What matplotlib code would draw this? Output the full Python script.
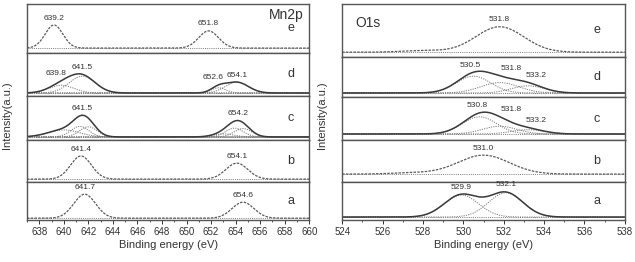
import numpy as np
import matplotlib
matplotlib.use("Agg")
import matplotlib.pyplot as plt
from matplotlib.ticker import MultipleLocator

plt.rcParams['font.family'] = ['Liberation Sans', 'DejaVu Sans']

# ---- Mn2p: fitted peak components per sample (centre eV, height, FWHM eV) ----
mn_samples = ["e", "d", "c", "b", "a"]
mn_base = [0.10, 0.07, 0.07, 0.07, 0.05]
mn_centers = [[639.2, 651.8],
              [639.8, 641.5, 652.6, 654.1],
              [640.0, 641.3, 642.0, 653.0, 653.9, 654.6],
              [641.4, 654.1],
              [641.7, 654.6]]
mn_heights = [[0.47, 0.35],
              [0.18, 0.39, 0.12, 0.25],
              [0.16, 0.24, 0.23, 0.07, 0.20, 0.19],
              [0.55, 0.38],
              [0.63, 0.42]]
mn_fwhm = [[1.7, 1.9],
           [2.4, 2.5, 1.4, 2.2],
           [3.0, 1.7, 1.7, 2.0, 1.7, 1.7],
           [2.0, 2.1],
           [2.1, 2.1]]
mn_fitted = [False, True, True, False, False]
mn_labels = [["639.2", "651.8"],
             ["639.8", "641.5", "652.6", "654.1"],
             ["641.5", "654.2"],
             ["641.4", "654.1"],
             ["641.7", "654.6"]]

# ---- O1s ----
o_samples = ["e", "d", "c", "b", "a"]
o_base = [0.09, 0.10, 0.14, 0.19, 0.08]
o_centers = [[528.0, 531.8],
             [530.5, 531.8, 533.2],
             [530.8, 531.8, 533.2],
             [527.5, 531.0],
             [529.9, 532.1]]
o_heights = [[0.03, 0.48],
             [0.42, 0.26, 0.18],
             [0.40, 0.18, 0.10],
             [0.03, 0.45],
             [0.58, 0.64]]
o_fwhm = [[2.5, 2.8],
          [2.0, 2.2, 1.9],
          [2.0, 2.0, 1.9],
          [2.5, 3.0],
          [2.0, 2.0]]
o_fitted = [False, True, True, False, True]
o_labels = [["531.8"],
            ["530.5", "531.8", "533.2"],
            ["530.8", "531.8", "533.2"],
            ["531.0"],
            ["529.9", "532.1"]]

# label x-offsets in points (layout only)
mn_label_dx = [[0, 0], [-4, 0, -4, 0], [0, 0], [0, 0], [0, 0]]
o_label_dx = [[0], [-2, 8, 6], [-2, 8, 6], [0], [0, 0]]

DARK = "#3a3a3a"
GREY = "#7a7a7a"


def gauss(x, c, h, w):
    return h * np.exp(-4 * np.log(2) * ((x - c) / w) ** 2)


def draw_stack(gs, xlim, samples, base, centers, heights, fwhm, fitted,
               labels, label_dx, title, title_xy, letter_x):
    x = np.linspace(xlim[0], xlim[1], 800)
    axes = []
    for i, s in enumerate(samples):
        ax = fig.add_subplot(gs[i])
        axes.append(ax)
        comps = [gauss(x, c, h, w) for c, h, w in
                 zip(centers[i], heights[i], fwhm[i])]
        env = base[i] + np.sum(comps, axis=0)
        ax.plot(x, np.full_like(x, base[i]), color=GREY, lw=0.7,
                ls=(0, (1, 1.2)))
        if fitted[i]:
            for comp in comps:
                ax.plot(x, base[i] + comp, color=GREY, lw=0.7,
                        ls=(0, (1.2, 1.2)))
            ax.plot(x, env, color=DARK, lw=1.1)
        else:
            ax.plot(x, env, color="#5a5a5a", lw=0.9, ls=(0, (2, 1)))
        for lab, dx in zip(labels[i], label_dx[i]):
            xv = float(lab)
            yv = base[i] + sum(gauss(xv, c, h, w) for c, h, w in
                               zip(centers[i], heights[i], fwhm[i]))
            ax.annotate(lab, (xv, yv), xytext=(dx, 2.5),
                        textcoords="offset points", ha="center",
                        va="bottom", fontsize=6, color="#333")
        ax.text(letter_x, 0.5, s, transform=ax.transAxes, ha="center",
                va="center", fontsize=9, color="#333")
        ax.set_xlim(xlim)
        ax.set_ylim(0, 1)
        ax.set_yticks([])
        for sp in ax.spines.values():
            sp.set_color("#555")
            sp.set_linewidth(1.0)
        if i < len(samples) - 1:
            ax.tick_params(axis="x", which="both", bottom=False,
                           labelbottom=False)
    ax = axes[-1]
    ax.xaxis.set_major_locator(MultipleLocator(2))
    ax.xaxis.set_minor_locator(MultipleLocator(1))
    ax.tick_params(axis="x", which="major", direction="out", length=3,
                   width=0.7, labelsize=7, pad=2, colors="#333")
    ax.tick_params(axis="x", which="minor", direction="out", length=1.5,
                   width=0.6, colors="#333")
    ax.set_xlabel("Binding energy (eV)", fontsize=8, labelpad=2,
                  color="#333")
    axes[0].text(title_xy[0], title_xy[1], title,
                 transform=axes[0].transAxes, ha="center", va="center",
                 fontsize=10, color="#333")
    return axes


fig = plt.figure(figsize=(6.35, 2.62), dpi=100)

gs_l = fig.add_gridspec(5, 1, left=0.0425, right=0.487, top=0.985,
                        bottom=0.160, hspace=0,
                        height_ratios=[49, 43, 44, 42, 38])
gs_r = fig.add_gridspec(5, 1, left=0.539, right=0.984, top=0.985,
                        bottom=0.160, hspace=0,
                        height_ratios=[53, 40, 43, 42, 38])

draw_stack(gs_l, (637, 660), mn_samples, mn_base, mn_centers, mn_heights,
           mn_fwhm, mn_fitted, mn_labels, mn_label_dx, "Mn2p", (0.92, 0.78),
           0.935)
draw_stack(gs_r, (524, 538), o_samples, o_base, o_centers, o_heights,
           o_fwhm, o_fitted, o_labels, o_label_dx, "O1s", (0.092, 0.64),
           0.90)

fig.text(0.011, 0.56, "Intensity(a.u.)", rotation=90, ha="center",
         va="center", fontsize=8, color="#333")
fig.text(0.507, 0.56, "Intensity(a.u.)", rotation=90, ha="center",
         va="center", fontsize=8, color="#333")

fig.savefig("out.png", dpi=100)
